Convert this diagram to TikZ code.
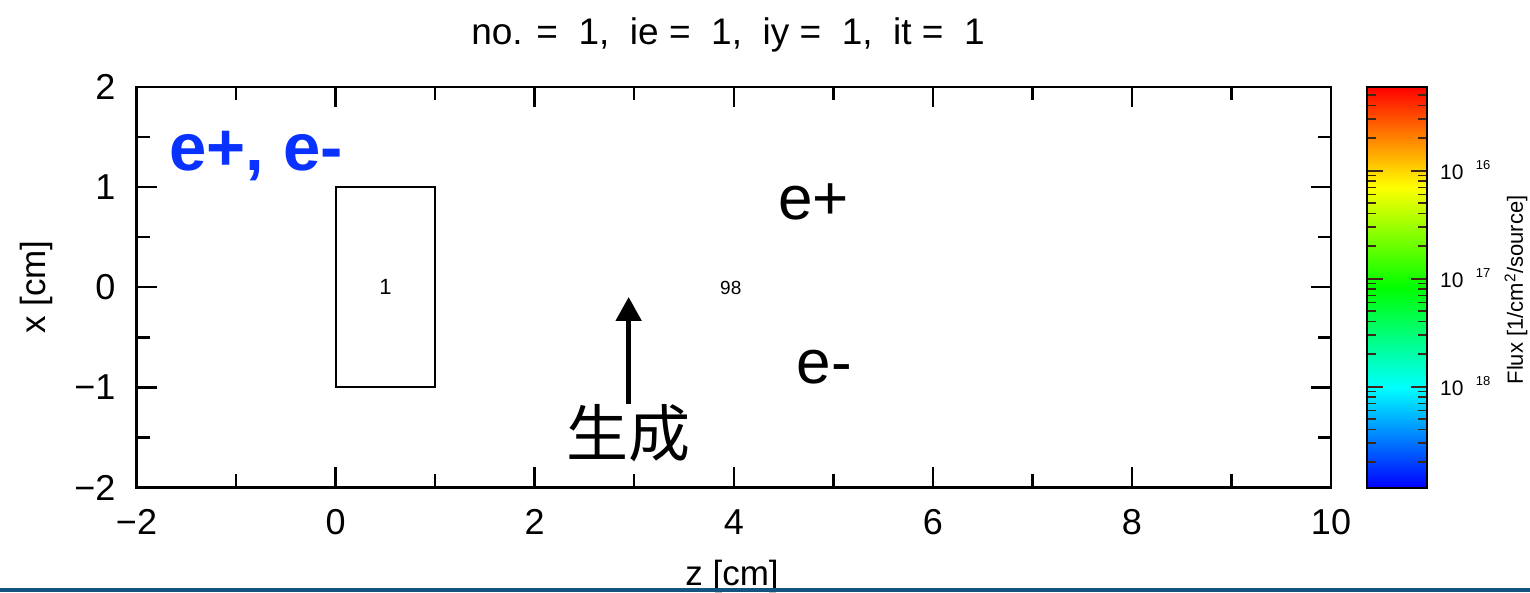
\documentclass[tikz,border=0pt]{standalone}
\usepackage{fontspec}
\setmainfont{Liberation Sans}
\newfontfamily\cjk{Noto Sans CJK JP}
\usetikzlibrary{arrows.meta}

\newcommand{\pxfont}[1]{\fontsize{#1}{#1}\selectfont}

% jet colour map, the useful part is the middle 50bp
\pgfdeclareverticalshading{fluxbar}{100bp}{%
  color(0bp)=(blue); color(25bp)=(blue); color(37.5bp)=(cyan);
  color(50bp)=(green); color(62.5bp)=(yellow); color(75bp)=(red);
  color(100bp)=(red)}

\begin{document}
\begin{tikzpicture}[x=1pt,y=-1pt,line join=miter]

\definecolor{labelblue}{RGB}{10,50,255}
\definecolor{barblue}{RGB}{20,82,128}
\definecolor{tickcol}{RGB}{60,40,20}

\def\zu{99.54}  % pixels per cm along z
\def\xu{100.1}  % pixels per cm along x
\def\mj{20pt}   % major tick
\def\mn{13pt}   % minor tick

\useasboundingbox (0,0) rectangle (1530,592);

% ---------------- title ----------------
\node[font=\pxfont{37}, anchor=base] (title) at (728,44)
  {no. =\ \ 1,\ \ ie =\ \ 1,\ \ iy =\ \ 1,\ \ it =\ \ 1};

% =========== plot frame, in cm ===========
\begin{scope}[shift={(335.6,287.25)}, x=\zu pt, y=\xu pt]
  \draw[line width=2.6pt] (-2,-2) rectangle (10,2);
  \foreach \z in {0,2,...,8} {
    \draw[line width=2.4pt] (\z,-2) -- ++(0,\mj);
    \draw[line width=2.4pt] (\z,2) -- ++(0,-\mj);
  }
  \foreach \z in {-1,1,...,9} {
    \draw[line width=2.4pt] (\z,-2) -- ++(0,\mn);
    \draw[line width=2.4pt] (\z,2) -- ++(0,-\mn);
  }
  \foreach \x in {-1,0,1} {
    \draw[line width=2.4pt] (-2,\x) -- ++(\mj,0);
    \draw[line width=2.4pt] (10,\x) -- ++(-\mj,0);
  }
  \foreach \x in {-1.5,-0.5,0.5,1.5} {
    \draw[line width=2.4pt] (-2,\x) -- ++(\mn,0);
    \draw[line width=2.4pt] (10,\x) -- ++(-\mn,0);
  }
  % tick labels
  \foreach \z/\t in {-2/−2,0/0,2/2,4/4,6/6,8/8,10/10}
    \node[font=\pxfont{36}, anchor=base, inner sep=0pt] (zl\z) at (\z,-2) [yshift=-47.5pt] {\t};
  \foreach \x/\t in {2/2,1/1,0/0,-1/−1,-2/−2}
    \node[font=\pxfont{36}, anchor=east, inner sep=0pt] (xl\x) at (-2,\x) [xshift=-21pt] {\t};

  % region 1 (target)
  \draw[line width=2pt] (0,-1) rectangle (1,1);
  \node[font=\pxfont{22}] (reg1) at (0.5,0) {1};
  \node[font=\pxfont{19}] (reg98) at (3.97,-0.01) {98};

  % particles
  \node[font=\pxfont{67}\bfseries, text=labelblue, anchor=base west, inner sep=0pt]
    (part) at (-1.67,1.171) {e+, e-};
  \node[font=\pxfont{62}] (epos) at (4.80,0.85) {e+};
  \node[font=\pxfont{62}] (eneg) at (4.91,-0.80) {e-};

  % production point
  \node[font=\cjk\pxfont{62}, inner sep=0pt] (gen) at (2.944,-1.46) {生成};
  \coordinate (gentip) at (2.944,-0.097);
  \draw[line width=5pt, -{Triangle[length=24pt,width=25pt]}] (gen.north) -- (gentip);
\end{scope}

% axis titles
\node[font=\pxfont{35}, rotate=90] (xtitle) at (36,287) {x [cm]};
\node[font=\pxfont{35}, anchor=base] (ztitle) at (732,585) {z [cm]};

% =========== colour bar ===========
\shade[shading=fluxbar] (1367,86.7) rectangle (1427,488);
\begin{scope}
  \clip (1367,86.7) rectangle (1427,488);
  \foreach \d in {0,1,2,3}
    \foreach \k in {2,...,9} {
      \pgfmathsetmacro\yy{170.7+108*\d-108*ln(\k)/ln(10)}
      \draw[tickcol, line width=1.6pt] (1367,\yy) -- ++(9,0);
      \draw[tickcol, line width=1.6pt] (1427,\yy) -- ++(-9,0);
    }
  \foreach \d in {0,1,2} {
    \draw[tickcol, line width=1.6pt] (1367,170.7+108*\d) -- ++(16,0);
    \draw[tickcol, line width=1.6pt] (1427,170.7+108*\d) -- ++(-16,0);
  }
\end{scope}
\draw[line width=2pt] (1367,86.7) rectangle (1427,488);

\foreach \d/\yy in {16/172,17/280,18/388} {
  \node[font=\pxfont{21}, anchor=west, inner sep=0pt] (dec\d) at (1440,\yy) {10};
  \node[font=\pxfont{13}, anchor=west, inner sep=0pt] (exp\d)
    at ([shift={(12pt,6.5pt)}]dec\d.east) {\d};
}
\node[font=\pxfont{22}, rotate=90] (fluxlab) at (1516,290) {Flux [1/cm\textsuperscript{2}/source]};

% bottom rule of the slide
\fill[barblue] (0,588) rectangle (1530,592);

\end{tikzpicture}
\end{document}
